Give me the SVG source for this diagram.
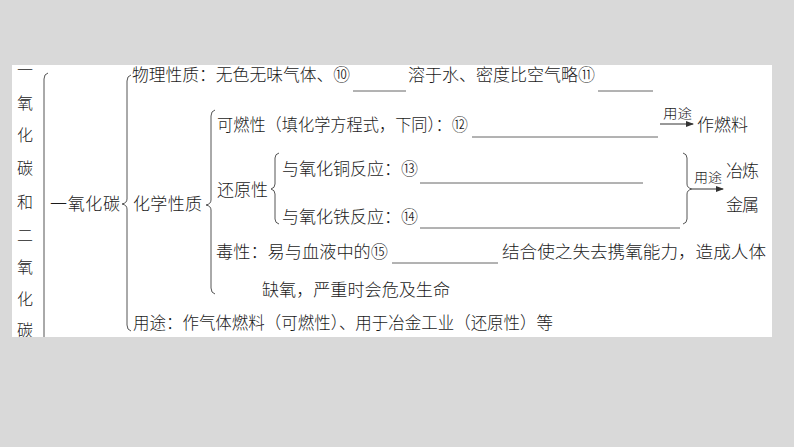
<svg xmlns="http://www.w3.org/2000/svg" width="794" height="447" viewBox="0 0 794 447">
<style>
.t{font-family:"Noto Sans CJK SC","Liberation Serif",sans-serif;font-size:17px;font-weight:300;fill:#1a1a1a}
.s{font-family:"Noto Sans CJK SC","Liberation Serif",sans-serif;font-size:13px;font-weight:300;fill:#1a1a1a}
.v{font-family:"Noto Sans CJK SC","Liberation Serif",sans-serif;font-size:16px;font-weight:300;fill:#1a1a1a;text-anchor:middle}
.b{fill:none;stroke:#555;stroke-width:1}
.u{stroke:#666;stroke-width:1}
.a{stroke:#333;stroke-width:1;marker-end:url(#ah)}
</style>
<defs>
<marker id="ah" viewBox="0 0 8 6" refX="7" refY="3" markerWidth="8" markerHeight="6" markerUnits="userSpaceOnUse" orient="auto">
<path d="M0,0 L8,3 L0,6 Z" fill="#333"/>
</marker>
<clipPath id="panel"><rect x="12" y="65" width="760" height="272"/></clipPath>
</defs>
<rect x="0" y="0" width="794" height="447" fill="#d9d9d9"/>
<rect x="12" y="65" width="760" height="272" fill="#ffffff"/>
<g clip-path="url(#panel)">
<g id="title">
<text class="v" x="25" y="76">一</text>
<text class="v" x="25" y="109">氧</text>
<text class="v" x="25" y="141">化</text>
<text class="v" x="25" y="174">碳</text>
<text class="v" x="25" y="208">和</text>
<text class="v" x="25" y="241">二</text>
<text class="v" x="25" y="273">氧</text>
<text class="v" x="25" y="305">化</text>
<text class="v" x="25" y="336">碳</text>
</g>
<g id="connectors">
<path class="b" d="M48,73 Q44,74 44,79 L44,345"/>
<path class="b" d="M131,75 Q127,76 127,81 L127,199 Q127,203 122,204 Q127,205 127,209 L127,325 Q127,330 131,331"/>
<path class="b" d="M215,110 Q211,111 211,116 L211,200 Q211,204 206,205 Q211,206 211,210 L211,288 Q211,293 215,294"/>
<path class="b" d="M279,153 Q275,154 275,158 L275,184 Q275,188 271,189 Q275,190 275,194 L275,219 Q275,223 279,224"/>
<path class="b" d="M683,153 Q687,154 687,158 L687,184 Q687,188 692,189 Q687,190 687,194 L687,219 Q687,223 683,224"/>
<line class="a" x1="660" y1="124" x2="693" y2="124"/>
<line class="a" x1="692" y1="189" x2="723" y2="189"/>
</g>
</g>
<g id="co">
<text class="t" x="50" y="210" textLength="70" lengthAdjust="spacing">一氧化碳</text>
</g>
<g id="physical">
<text class="t" x="132" y="81" textLength="218" lengthAdjust="spacingAndGlyphs">物理性质：无色无味气体、⑩</text>
<line class="u" x1="353" y1="91" x2="406" y2="91"/>
<text class="t" x="408" y="81" textLength="187" lengthAdjust="spacingAndGlyphs">溶于水、密度比空气略⑪</text>
<line class="u" x1="598" y1="91" x2="653" y2="91"/>
</g>
<g id="chemical">
<text class="t" x="133" y="210" textLength="69" lengthAdjust="spacing">化学性质</text>
</g>
<g id="flammable">
<text class="t" x="217" y="131" textLength="251" lengthAdjust="spacingAndGlyphs">可燃性（填化学方程式，下同）：⑫</text>
<line class="u" x1="472" y1="137" x2="658" y2="137"/>
<text class="s" x="663" y="118" textLength="29" lengthAdjust="spacingAndGlyphs">用途</text>
<text class="t" x="697" y="131" textLength="51" lengthAdjust="spacing">作燃料</text>
</g>
<g id="reducing">
<text class="t" x="217" y="196" textLength="51" lengthAdjust="spacing">还原性</text>
<text class="t" x="282" y="175" textLength="136" lengthAdjust="spacingAndGlyphs">与氧化铜反应：⑬</text>
<line class="u" x1="420" y1="183" x2="643" y2="183"/>
<text class="t" x="282" y="223" textLength="136" lengthAdjust="spacingAndGlyphs">与氧化铁反应：⑭</text>
<line class="u" x1="420" y1="228" x2="680" y2="228"/>
<text class="s" x="694" y="182" textLength="28" lengthAdjust="spacingAndGlyphs">用途</text>
<text class="t" x="726" y="177" textLength="33" lengthAdjust="spacing">冶炼</text>
<text class="t" x="726" y="211" textLength="33" lengthAdjust="spacing">金属</text>
</g>
<g id="toxic">
<text class="t" x="216" y="258" textLength="172" lengthAdjust="spacingAndGlyphs">毒性：易与血液中的⑮</text>
<line class="u" x1="392" y1="263" x2="498" y2="263"/>
<text class="t" x="502" y="258" textLength="264" lengthAdjust="spacingAndGlyphs">结合使之失去携氧能力，造成人体</text>
<text class="t" x="262" y="296" textLength="188" lengthAdjust="spacingAndGlyphs">缺氧，严重时会危及生命</text>
</g>
<g id="use">
<text class="t" x="133" y="329" textLength="420" lengthAdjust="spacingAndGlyphs">用途：作气体燃料（可燃性）、用于冶金工业（还原性）等</text>
</g>
</svg>
